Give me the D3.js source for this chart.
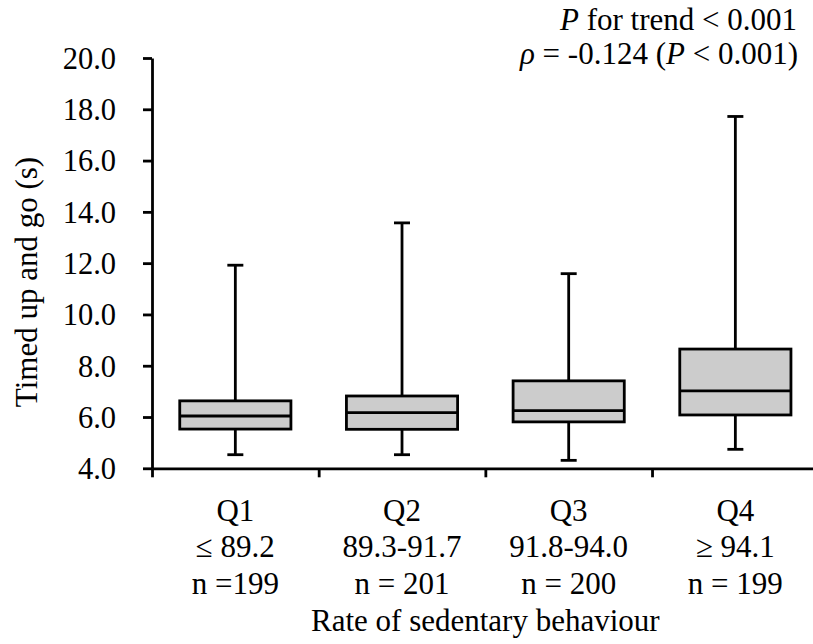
<!DOCTYPE html>
<html>
<head>
<meta charset="utf-8">
<script src="https://cdn.jsdelivr.net/npm/d3@7"></script>
<style>
  body { margin: 0; background: #fff; }
  svg { display: block; }
</style>
</head>
<body>
<svg width="813" height="644"></svg>
<script>
// values
const categories = ["Q1", "Q2", "Q3", "Q4"];
const rangeLabels = ["\u2264 89.2", "89.3-91.7", "91.8-94.0", "\u2265 94.1"];
const nLabels = ["n =199", "n = 201", "n = 200", "n = 199"];
const whiskerLow = [4.53, 4.53, 4.31, 4.74];
const lowerQuartile = [5.53, 5.52, 5.81, 6.08];
const medians = [6.04, 6.17, 6.25, 7.02];
const upperQuartile = [6.63, 6.82, 7.41, 8.65];
const whiskerHigh = [11.92, 13.57, 11.59, 17.72];
const yTicks = [4, 6, 8, 10, 12, 14, 16, 18, 20];

const FONT = "Liberation Serif";

const boxes = categories.map((c, i) => ({
  cat: c,
  lo: whiskerLow[i],
  q1: lowerQuartile[i],
  med: medians[i],
  q3: upperQuartile[i],
  hi: whiskerHigh[i],
}));

const svg = d3.select("svg");
const plotLeft = 152, plotRight = 818.7, plotTop = 58, plotBottom = 468.3;

const y = d3.scaleLinear().domain([4, 20]).range([plotBottom, plotTop]);
const x = d3.scaleBand().domain(categories).range([plotLeft, plotRight]);
const edges = d3.scaleLinear().domain([0, categories.length]).range([plotLeft, plotRight]);

function styleAxis(g) {
  g.selectAll("path, line").attr("stroke", "#000").attr("stroke-width", 2.8);
  g.selectAll("text")
    .style("font-family", FONT)
    .style("font-size", "30.5px")
    .attr("fill", "#000");
}

// y axis
svg.append("g")
  .attr("transform", `translate(${plotLeft},0)`)
  .call(d3.axisLeft(y).tickValues(yTicks).tickSize(9).tickSizeOuter(0).tickPadding(27).tickFormat(d3.format(".1f")))
  .call(styleAxis)
  .call((g) => g.selectAll("text").attr("dy", "0.34em"));

// x axis, ticks between the groups
svg.append("g")
  .attr("transform", `translate(0,${plotBottom})`)
  .call(d3.axisBottom(edges).tickValues(d3.range(categories.length + 1)).tickSize(9).tickSizeOuter(0).tickFormat(""))
  .call(styleAxis);

const boxW = x.bandwidth() * 0.667;
const capW = 16;
const g = svg.append("g");

const box = g.selectAll("g.box")
  .data(boxes)
  .enter()
  .append("g")
  .attr("class", "box")
  .attr("transform", (d) => `translate(${x(d.cat) + x.bandwidth() / 2},0)`);

// whiskers
box.append("line")
  .attr("x1", 0).attr("x2", 0)
  .attr("y1", (d) => y(d.hi)).attr("y2", (d) => y(d.lo))
  .attr("stroke", "#000").attr("stroke-width", 2.8);

box.selectAll("line.cap")
  .data((d) => [d.lo, d.hi])
  .enter()
  .append("line")
  .attr("class", "cap")
  .attr("x1", -capW / 2).attr("x2", capW / 2)
  .attr("y1", (v) => y(v)).attr("y2", (v) => y(v))
  .attr("stroke", "#000").attr("stroke-width", 2.8);

box.append("rect")
  .attr("x", -boxW / 2)
  .attr("width", boxW)
  .attr("y", (d) => y(d.q3))
  .attr("height", (d) => y(d.q1) - y(d.q3))
  .attr("fill", "#cccccc")
  .attr("stroke", "#000")
  .attr("stroke-width", 2.8);

box.append("line")
  .attr("x1", -boxW / 2).attr("x2", boxW / 2)
  .attr("y1", (d) => y(d.med)).attr("y2", (d) => y(d.med))
  .attr("stroke", "#000").attr("stroke-width", 2.8);

function addText(sel) {
  return sel.append("text")
    .style("font-family", FONT)
    .style("font-size", "31px")
    .attr("fill", "#000");
}

// category labels, three lines each
const labelRows = [categories, rangeLabels, nLabels];
const rowBase = [521, 557, 593.5];
labelRows.forEach((row, r) => {
  svg.append("g")
    .selectAll("text")
    .data(row)
    .enter()
    .append("text")
    .style("font-family", FONT)
    .style("font-size", "31px")
    .attr("x", (d, i) => x(categories[i]) + x.bandwidth() / 2)
    .attr("y", rowBase[r])
    .attr("text-anchor", "middle")
    .text((d) => d);
});

addText(svg)
  .attr("x", (plotLeft + plotRight) / 2)
  .attr("y", 631)
  .attr("text-anchor", "middle")
  .text("Rate of sedentary behaviour");

addText(svg)
  .attr("transform", "translate(37,282) rotate(-90)")
  .attr("text-anchor", "middle")
  .text("Timed up and go (s)");

// statistics note, top right
const note1 = addText(svg)
  .attr("x", 797).attr("y", 30)
  .attr("text-anchor", "end");
note1.append("tspan").attr("font-style", "italic").text("P");
note1.append("tspan").text(" for trend < 0.001");

const note2 = addText(svg)
  .attr("x", 798).attr("y", 64)
  .attr("text-anchor", "end");
note2.append("tspan").attr("font-style", "italic").text("\u03c1");
note2.append("tspan").text(" = -0.124 (");
note2.append("tspan").attr("font-style", "italic").text("P");
note2.append("tspan").text(" < 0.001)");
</script>
</body>
</html>
